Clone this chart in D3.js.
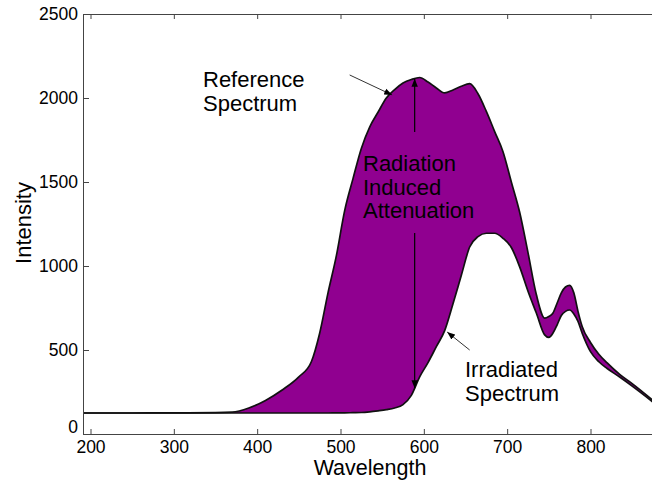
<!DOCTYPE html>
<html>
<head>
<meta charset="utf-8">
<script src="https://cdn.jsdelivr.net/npm/d3@7"></script>
<style>
  body { margin: 0; background: #fff; }
  svg text { font-family: "Liberation Sans", Arial, sans-serif; fill: #000; }
</style>
</head>
<body>
<svg id="chart" width="652" height="480"></svg>
<script>
// Wavelength grid (nm) shared by both spectra
const wavelengths = [191, 250, 300, 350, 370, 390, 410, 430, 450, 465, 475, 485, 495, 505, 515,
  525, 535, 545, 555, 565, 575, 585, 595, 605, 615, 625, 635, 645, 655, 665, 675, 685, 695,
  705, 715, 725, 735, 745, 750, 755, 760, 765, 770, 775, 780, 785, 790, 800, 810, 820, 835, 850, 875];

// Reference spectrum (before irradiation)
const referenceSpectrum = [125, 125, 126, 127, 130, 155, 200, 262, 340, 430, 600, 840, 1060, 1330, 1520,
  1700, 1827, 1915, 2000, 2050, 2089, 2110, 2122, 2095, 2060, 2030, 2048, 2070, 2085, 2025, 1920, 1800, 1680,
  1500, 1320, 1080, 830, 690, 700, 720, 780, 840, 875, 885, 840, 730, 640, 545, 475, 423, 355, 300, 200];

// Irradiated spectrum
const irradiatedSpectrum = [125, 125, 125, 125, 125, 125, 125, 125, 125, 125, 125, 125, 126, 126, 127,
  128, 132, 138, 145, 155, 175, 230, 340, 425, 520, 615, 775, 945, 1113, 1175, 1195, 1195, 1165,
  1110, 995, 850, 720, 590, 575, 601, 650, 705, 730, 738, 715, 670, 600, 490, 430, 390, 339, 285, 190];

const xTicks = [200, 300, 400, 500, 600, 700, 800];
const yTicks = [0, 500, 1000, 1500, 2000, 2500];

const data = wavelengths.map((w, i) => ({ w: w, ref: referenceSpectrum[i], irr: irradiatedSpectrum[i] }));

const svg = d3.select("#chart");

const plot = { left: 83, right: 653, top: 14, bottom: 434 };

const x = d3.scaleLinear().domain([191, 875]).range([plot.left, plot.right]);
const y = d3.scaleLinear().domain([0, 2500]).range([plot.bottom, plot.top]);

// fill between the two spectra (attenuation)
svg.append("path")
  .datum(data)
  .attr("fill", "#900090")
  .attr("d", d3.area()
    .curve(d3.curveMonotoneX)
    .x(d => x(d.w))
    .y0(d => y(d.irr))
    .y1(d => y(d.ref)));

// spectrum outlines
const line = key => d3.line().curve(d3.curveMonotoneX).x(d => x(d.w)).y(d => y(d[key]));
["ref", "irr"].forEach(key => {
  svg.append("path")
    .datum(data)
    .attr("fill", "none")
    .attr("stroke", "#111")
    .attr("stroke-width", 1.7)
    .attr("stroke-linejoin", "round")
    .attr("d", line(key));
});

// axes, matlab style inward ticks
const axisColor = "#444";
const styleAxis = g => {
  g.select(".domain").attr("stroke", axisColor);
  g.selectAll(".tick line").attr("stroke", axisColor);
  g.selectAll("text").style("font-size", "17.5px").attr("fill", "#000");
};

svg.append("g")
  .attr("transform", `translate(${plot.left},0)`)
  .call(d3.axisLeft(y).tickValues(yTicks).tickFormat(d3.format("d"))
    .tickSizeInner(-6).tickSizeOuter(0).tickPadding(5))
  .call(styleAxis)
  .call(g => g.selectAll(".tick text").filter(d => d === 0).attr("dy", "-0.06em"));

svg.append("g")
  .attr("transform", `translate(0,${plot.bottom})`)
  .call(d3.axisBottom(x).tickValues(xTicks).tickFormat(d3.format("d"))
    .tickSizeInner(-5).tickSizeOuter(0).tickPadding(7))
  .call(styleAxis);

svg.append("g")
  .attr("transform", `translate(0,${plot.top})`)
  .call(d3.axisTop(x).tickValues(xTicks).tickSizeInner(-5).tickSizeOuter(0).tickFormat(""))
  .call(styleAxis);

// axis titles
svg.append("text")
  .attr("x", 370)
  .attr("y", 475)
  .attr("text-anchor", "middle")
  .style("font-size", "21.5px")
  .text("Wavelength");

svg.append("text")
  .attr("transform", "translate(31,223) rotate(-90)")
  .attr("text-anchor", "middle")
  .style("font-size", "22px")
  .text("Intensity");

// arrow marker
svg.append("defs").append("marker")
  .attr("id", "head")
  .attr("viewBox", "0 0 10 10")
  .attr("refX", 10)
  .attr("refY", 5)
  .attr("markerWidth", 8)
  .attr("markerHeight", 8)
  .attr("markerUnits", "userSpaceOnUse")
  .attr("orient", "auto")
  .append("path")
  .attr("d", "M0,1 L10,5 L0,9 Z")
  .attr("fill", "#000");

const arrows = [
  { from: [511, 2137], to: [562, 2018], color: "#333", width: 1 },   // reference
  { from: [655, 500], to: [628, 607], color: "#333", width: 1 },     // irradiated
  { from: [589, 1797], to: [589, 2115], color: "#000", width: 1.2 }, // up
  { from: [589, 1196], to: [589, 272], color: "#000", width: 1.2 }   // down
];

svg.selectAll(".arrow")
  .data(arrows)
  .enter()
  .append("line")
  .attr("class", "arrow")
  .attr("x1", d => x(d.from[0]))
  .attr("y1", d => y(d.from[1]))
  .attr("x2", d => x(d.to[0]))
  .attr("y2", d => y(d.to[1]))
  .attr("stroke", d => d.color)
  .attr("stroke-width", d => d.width)
  .attr("marker-end", "url(#head)");

// annotation text
const notes = [
  { lines: ["Reference", "Spectrum"], at: [203, 87] },
  { lines: ["Radiation", "Induced", "Attenuation"], at: [363, 171] },
  { lines: ["Irradiated", "Spectrum"], at: [465, 377] }
];

notes.forEach(n => {
  const t = svg.append("text")
    .attr("x", n.at[0])
    .attr("y", n.at[1])
    .style("font-size", "22px");
  n.lines.forEach((l, i) => {
    t.append("tspan")
      .attr("x", n.at[0])
      .attr("dy", i === 0 ? 0 : 23.5)
      .text(l);
  });
});
</script>
</body>
</html>
